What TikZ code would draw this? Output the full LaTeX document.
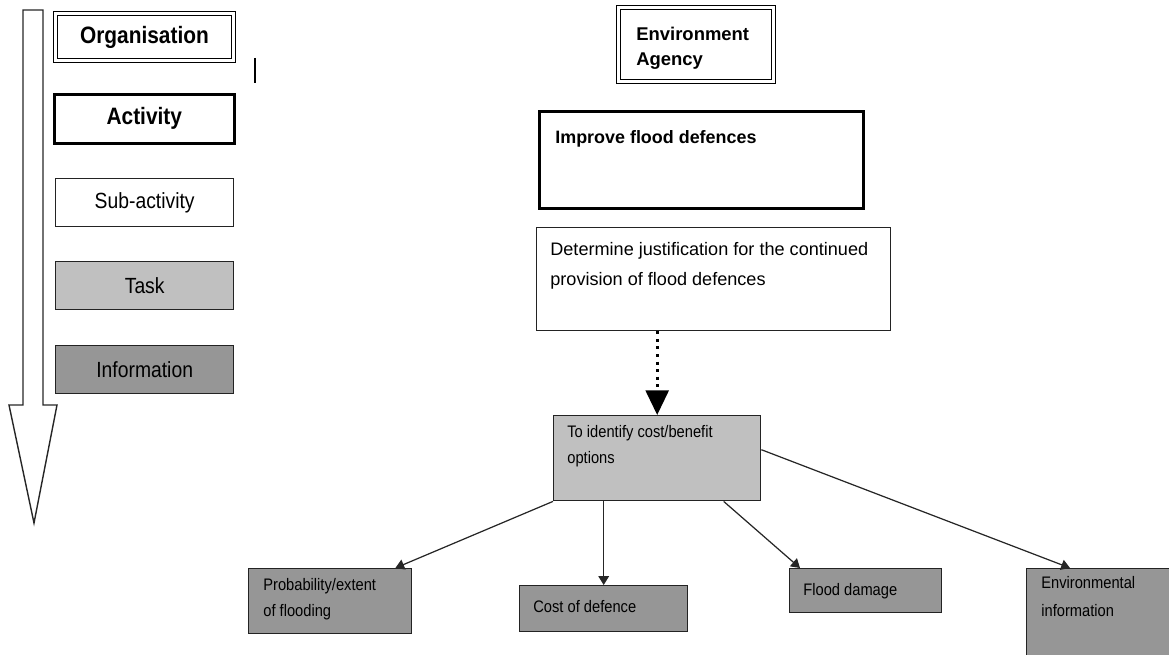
\documentclass[tikz,border=0pt]{standalone}
\usepackage{fontspec}
\setmainfont{Liberation Sans}
\newfontfamily\narrowfont{Liberation Sans}[FakeStretch=0.88]
\usetikzlibrary{arrows.meta, positioning}
\definecolor{taskgray}{RGB}{192,192,192}
\definecolor{infogray}{RGB}{150,150,150}
\definecolor{edgegray}{RGB}{35,35,35}

\begin{document}
\begin{tikzpicture}[x=0.02cm, y=-0.02cm,
    box/.style={draw=edgegray, line width=0.8pt, inner sep=0pt, anchor=north west},
    orgbox/.style={box, draw=black, double, line width=0.55pt, double distance=1.3pt},
    actbox/.style={box, draw=black, line width=1.5pt},
    taskbox/.style={box, fill=taskgray},
    infobox/.style={box, fill=infogray},
    keytext/.style={font=\narrowfont\fontsize{12.5}{15}\selectfont},
    keybold/.style={font=\narrowfont\bfseries\fontsize{13.5}{15}\selectfont},
    boxtext/.style={inner sep=0pt, anchor=north west, align=left,
      font=\narrowfont\fontsize{9.5}{14.7}\selectfont},
    link/.style={draw=black!85, line width=0.7pt, -{Triangle[length=5pt,width=6pt]}},
    dotlink/.style={draw=black, line width=1.7pt, dash pattern=on 1.7pt off 2.6pt,
      -{Triangle[length=14pt,width=13pt]}}]

  % Frame
  \clip (0,0) rectangle (1169,655);

  % Key: level arrow
  \draw[draw=black!85, line width=0.8pt]
    (23,10) -- (43,10) -- (43,405) -- (57,405) -- (34,523) -- (9,405) -- (23,405) -- cycle;
  \draw[line width=1.1pt] (255,58) -- (255,83);

  % Key boxes
  \node[orgbox, minimum width=3.56cm, minimum height=0.94cm, keybold] (org) at (55,13) {Organisation};
  \node[actbox, minimum width=3.6cm, minimum height=0.98cm, keybold] (act) at (53,93) {Activity};
  \node[box, minimum width=3.56cm, minimum height=0.96cm, keytext] (sub) at (55,178) {Sub-activity};
  \node[taskbox, minimum width=3.56cm, minimum height=0.96cm, keytext] (task) at (55,261) {Task};
  \node[infobox, minimum width=3.56cm, minimum height=0.96cm, keytext] (info) at (55,345) {Information};

  % Organisation
  \node[orgbox, minimum width=3.1cm, minimum height=1.48cm] (agency) at (618,7) {};
  \node[boxtext, font=\bfseries\fontsize{10.5}{14.2}\selectfont] (agencytxt) at (636,27) {Environment\\Agency};

  % Activity and sub-activity
  \node[actbox, line width=1.7pt, minimum width=6.48cm, minimum height=1.94cm] (improve) at (538,110) {};
  \node[boxtext, font=\bfseries\fontsize{10.2}{14}\selectfont] (improvetxt) at (555,130) {Improve flood defences};
  \node[box, minimum width=7.08cm, minimum height=2.06cm] (determ) at (536,227) {};
  \node[boxtext, font=\fontsize{10.3}{17}\selectfont] (determtxt) at (550,242)
    {Determine justification for the continued\\provision of flood defences};

  % Task
  \node[taskbox, minimum width=4.14cm, minimum height=1.7cm] (ident) at (553,415) {};
  \node[boxtext] (identtxt) at (567,425) {To identify cost/benefit\\options};

  % Information
  \node[infobox, minimum width=3.26cm, minimum height=1.3cm] (prob) at (248,568) {};
  \node[boxtext] (probtxt) at (263,578) {Probability/extent\\of flooding};
  \node[infobox, minimum width=3.36cm, minimum height=0.92cm] (cost) at (519,585) {};
  \node[boxtext] (costtxt) at (533,600) {Cost of defence};
  \node[infobox, minimum width=3.04cm, minimum height=0.88cm] (flood) at (789,568) {};
  \node[boxtext] (floodtxt) at (803,583) {Flood damage};
  \node[infobox, minimum width=3.2cm, minimum height=2cm] (envinfo) at (1026,568) {};
  \node[boxtext, font=\narrowfont\fontsize{9.5}{16}\selectfont] (envinfotxt) at (1041,576) {Environmental\\information};

  % Connectors
  \draw[dotlink] (ident.north |- determ.south) -- (ident.north);
  \draw[link] (ident.south west) -- ([xshift=-0.34cm]prob.north east);
  \draw[link] (cost.north |- ident.south) -- (cost.north);
  \draw[link] ([xshift=1.33cm]ident.south) -- ([xshift=0.22cm]flood.north west);
  \draw[link] ([yshift=0.17cm]ident.east) -- ([xshift=0.88cm]envinfo.north west);
\end{tikzpicture}
\end{document}
